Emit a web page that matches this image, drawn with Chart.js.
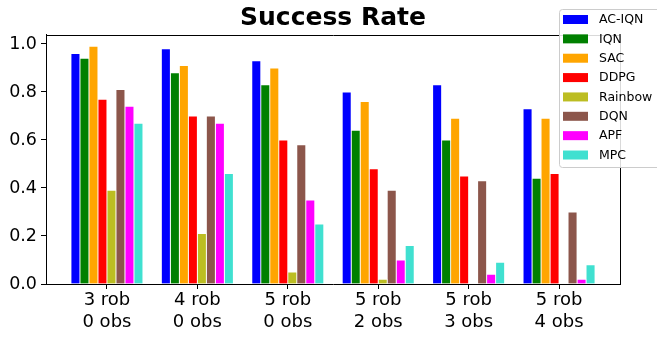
<!DOCTYPE html>
<html>
<head>
<meta charset="utf-8">
<script src="https://cdn.jsdelivr.net/npm/chart.js@4"></script>
<style>
  html, body { margin: 0; padding: 0; background: #fff; }
</style>
</head>
<body>
<canvas id="chart" width="657" height="337"></canvas>
<script>
// scenario labels (two lines each)
const scenarios = [
  ['3 rob', '0 obs'],
  ['4 rob', '0 obs'],
  ['5 rob', '0 obs'],
  ['5 rob', '2 obs'],
  ['5 rob', '3 obs'],
  ['5 rob', '4 obs']
];
const methods = ['AC-IQN', 'IQN', 'SAC', 'DDPG', 'Rainbow', 'DQN', 'APF', 'MPC'];
const colors = ['#0000ff', '#008000', '#ffa500', '#ff0000', '#bcbd22', '#8c564b', '#ff00ff', '#40e0d0'];

// success rate per scenario
const acIqn = [0.96, 0.98, 0.93, 0.80, 0.83, 0.73];
const iqn = [0.94, 0.88, 0.83, 0.64, 0.60, 0.44];
const sac = [0.99, 0.91, 0.90, 0.76, 0.69, 0.69];
const ddpg = [0.77, 0.70, 0.60, 0.48, 0.45, 0.46];
const rainbow = [0.39, 0.21, 0.05, 0.02, 0.00, 0.00];
const dqn = [0.81, 0.70, 0.58, 0.39, 0.43, 0.30];
const apf = [0.74, 0.67, 0.35, 0.10, 0.04, 0.02];
const mpc = [0.67, 0.46, 0.25, 0.16, 0.09, 0.08];

const yTicks = [0, 0.2, 0.4, 0.6, 0.8, 1.0];

const series = [acIqn, iqn, sac, ddpg, rainbow, dqn, apf, mpc];
const FONT = 'DejaVu Sans';

// axes frame (top/right) + legend box drawn on top
const framePlugin = {
  id: 'frame',
  afterDatasetsDraw(chart) {
    const { ctx, chartArea: a } = chart;
    ctx.save();
    ctx.strokeStyle = '#000';
    ctx.lineWidth = 1;
    ctx.beginPath();
    ctx.moveTo(Math.round(a.left) + 0.5, Math.round(a.top) + 0.5);
    ctx.lineTo(Math.round(a.right) + 0.5, Math.round(a.top) + 0.5);
    ctx.lineTo(Math.round(a.right) + 0.5, Math.round(a.bottom) + 0.5);
    ctx.stroke();
    ctx.restore();
  },
  afterDraw(chart) {
    const ctx = chart.ctx;
    ctx.save();
    const x = 559.5, y = 9.5, w = 110, h = 158, r = 3;
    ctx.beginPath();
    ctx.roundRect(x, y, w, h, r);
    ctx.fillStyle = 'rgba(255,255,255,0.85)';
    ctx.fill();
    ctx.strokeStyle = '#cccccc';
    ctx.lineWidth = 1;
    ctx.stroke();
    ctx.font = '12.5px "' + FONT + '"';
    ctx.textBaseline = 'middle';
    chart.data.datasets.forEach((ds, i) => {
      const cy = 19.5 + i * 19.36;
      ctx.fillStyle = ds.backgroundColor;
      ctx.fillRect(563, cy - 4.5, 25, 9);
      ctx.fillStyle = '#000';
      ctx.fillText(ds.label, 599, cy + 0.5);
    });
    ctx.restore();
  }
};

const datasets = methods.map((m, k) => ({
  label: m,
  data: series[k].map((v, i) => ({ x: i, y: v })),
  backgroundColor: colors[k],
  borderColor: '#ffffff',
  borderWidth: 0.8,
  borderSkipped: 'start',
  barThickness: 9
}));

new Chart(document.getElementById('chart').getContext('2d'), {
  type: 'bar',
  data: { datasets: datasets },
  options: {
    responsive: false,
    animation: false,
    devicePixelRatio: 1,
    layout: { padding: { left: 0, right: 37, top: 0, bottom: 0 } },
    plugins: {
      legend: { display: false },
      tooltip: { enabled: false },
      title: {
        display: true,
        text: 'Success Rate',
        fullSize: false,
        color: '#000',
        font: { family: FONT, size: 25, weight: 'bold', lineHeight: 1.2 },
        padding: { top: 3, bottom: 1.5 }
      }
    },
    scales: {
      x: {
        type: 'linear',
        min: -0.674,
        max: 5.674,
        offset: false,
        afterBuildTicks: s => { s.ticks = scenarios.map((_, i) => ({ value: i })); },
        afterFit: s => { s.height = 53; },
        grid: { offset: false, drawOnChartArea: false, drawTicks: true, tickLength: 5, color: '#000' },
        border: { color: '#000', width: 1 },
        ticks: {
          autoSkip: false,
          maxRotation: 0,
          padding: 1,
          color: '#000',
          font: { family: FONT, size: 18, lineHeight: 1.2 },
          callback: v => scenarios[v]
        }
      },
      y: {
        min: 0,
        max: 1.0395,
        afterBuildTicks: s => { s.ticks = yTicks.map(v => ({ value: v })); },
        afterFit: s => { s.width = 46; },
        grid: { drawOnChartArea: false, drawTicks: true, tickLength: 5, color: '#000' },
        border: { color: '#000', width: 1 },
        ticks: {
          padding: 4,
          color: '#000',
          font: { family: FONT, size: 17.5 },
          callback: v => v.toFixed(1)
        }
      }
    }
  },
  plugins: [framePlugin]
});
</script>
</body>
</html>
